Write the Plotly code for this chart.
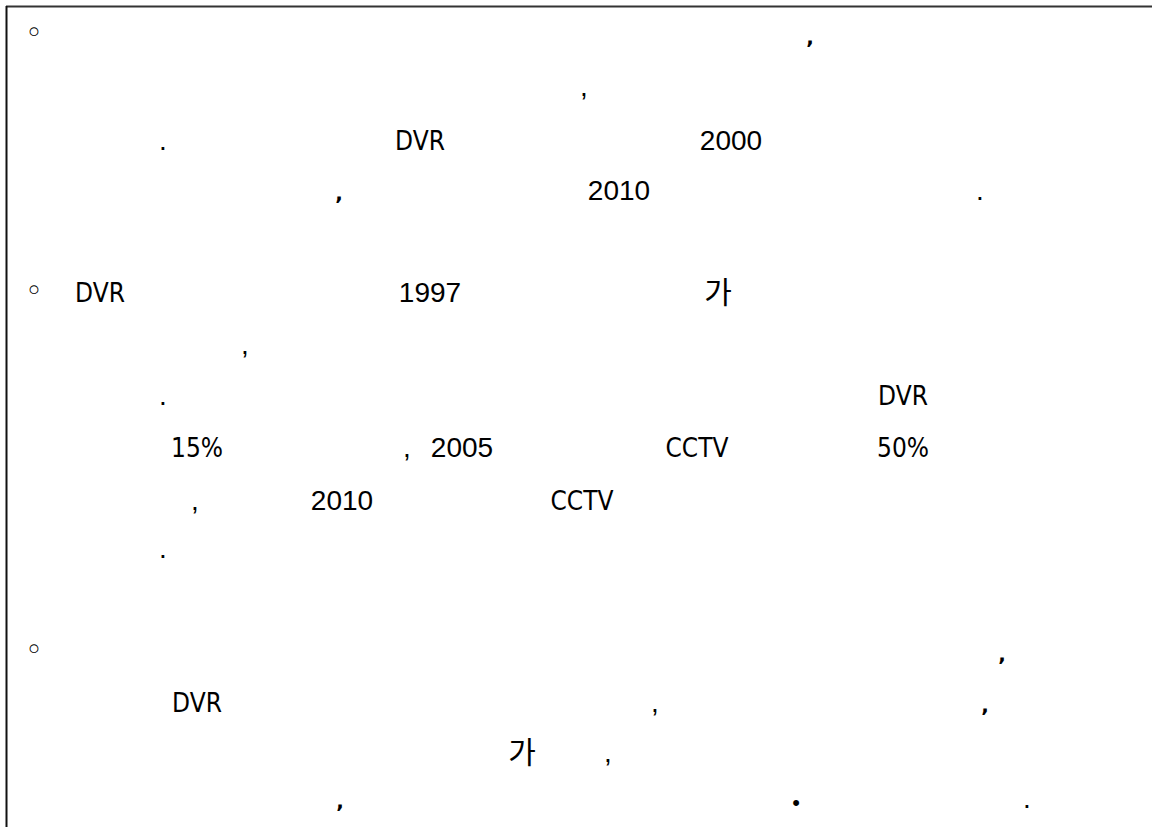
import plotly.graph_objects as go

# ---- text content (tokens that are visible on the page) ----
line_baselines = [44, 96, 150, 200, 302, 354, 405, 457, 510, 558, 661, 712, 762, 808]

# regular sans tokens (numbers, plain punctuation)
reg_text = ["2000", "2010", "1997", "2005", "2010",
            ",", ".", ".", ",", ".", ",", ",", ".", ",", ",", "."]
reg_x    = [731, 619, 430, 462, 342,
            584, 163, 980, 245, 163, 407, 195, 163, 655, 608, 1027]
reg_line = [2, 3, 4, 7, 8,
            1, 2, 3, 5, 6, 7, 8, 9, 11, 12, 13]

# condensed sans tokens
nar_text = ["DVR", "DVR", "DVR", "15%", "CCTV", "50%", "CCTV", "DVR"]
nar_x    = [420, 100, 903, 197, 697, 903, 582, 197]
nar_line = [2, 4, 6, 7, 7, 7, 8, 11]

# heavy punctuation tokens
bold_text = [",", ",", ",", ",", ","]
bold_x    = [810, 339, 1002, 985, 340]
bold_line = [0, 3, 10, 11, 13]

# Korean tokens
kor_text = ["가", "가"]
kor_x    = [718, 522]
kor_line = [4, 12]

# paragraph bullets
bul_text = ["◦", "◦", "◦"]
bul_x    = [34, 34, 34]
bul_line = [0, 4, 10]

dot_text = ["•"]
dot_x = [796]
dot_line = [13]


def ys(lines, size, shift=0.0):
    return [line_baselines[i] - 0.25 * size + shift for i in lines]


fig = go.Figure()

REG = 28
fig.add_trace(go.Scatter(
    x=reg_x, y=ys(reg_line, REG), text=reg_text, mode="text",
    textposition="middle center",
    textfont=dict(family="Liberation Sans, Arial, sans-serif", size=REG, color="#000"),
    hoverinfo="skip"))

NAR = 26
fig.add_trace(go.Scatter(
    x=nar_x, y=ys(nar_line, NAR, 0), text=nar_text, mode="text",
    textposition="middle center",
    textfont=dict(family="Liberation Sans Narrow, Arial Narrow, DejaVu Sans Condensed, sans-serif",
                  size=NAR, color="#000"),
    hoverinfo="skip"))

BOLD = 20
fig.add_trace(go.Scatter(
    x=bold_x, y=ys(bold_line, BOLD), text=bold_text, mode="text",
    textposition="middle center",
    textfont=dict(family="DejaVu Sans, sans-serif", size=BOLD, color="#000", weight="bold"),
    hoverinfo="skip"))

KOR = 30
fig.add_trace(go.Scatter(
    x=kor_x, y=ys(kor_line, KOR, 1), text=kor_text, mode="text",
    textposition="middle center",
    textfont=dict(family="Noto Sans CJK KR, sans-serif", size=KOR, color="#000"),
    hoverinfo="skip"))

BUL = 30
fig.add_trace(go.Scatter(
    x=bul_x, y=ys(bul_line, BUL, -1), text=bul_text, mode="text",
    textposition="middle center",
    textfont=dict(family="DejaVu Sans, sans-serif", size=BUL, color="#000"),
    hoverinfo="skip"))

DOT = 22
fig.add_trace(go.Scatter(
    x=dot_x, y=ys(dot_line, DOT, 2), text=dot_text, mode="text",
    textposition="middle center",
    textfont=dict(family="Liberation Sans, sans-serif", size=DOT, color="#000"),
    hoverinfo="skip"))

fig.update_layout(
    width=1152, height=827,
    margin=dict(l=0, r=0, t=0, b=0),
    paper_bgcolor="white", plot_bgcolor="white",
    showlegend=False,
    xaxis=dict(range=[0, 1152], visible=False, fixedrange=True),
    yaxis=dict(range=[827, 0], visible=False, fixedrange=True),
    shapes=[
        dict(type="line", xref="x", yref="y", x0=6, x1=1152, y0=6.5, y1=6.5,
             line=dict(color="#333", width=2)),
        dict(type="line", xref="x", yref="y", x0=6.5, x1=6.5, y0=6, y1=827,
             line=dict(color="#111", width=2)),
    ],
)

fig.write_html(
    "out.html",
    config={"displayModeBar": False},
    post_script="document.body.style.margin='0';document.body.style.overflow='hidden';",
)
